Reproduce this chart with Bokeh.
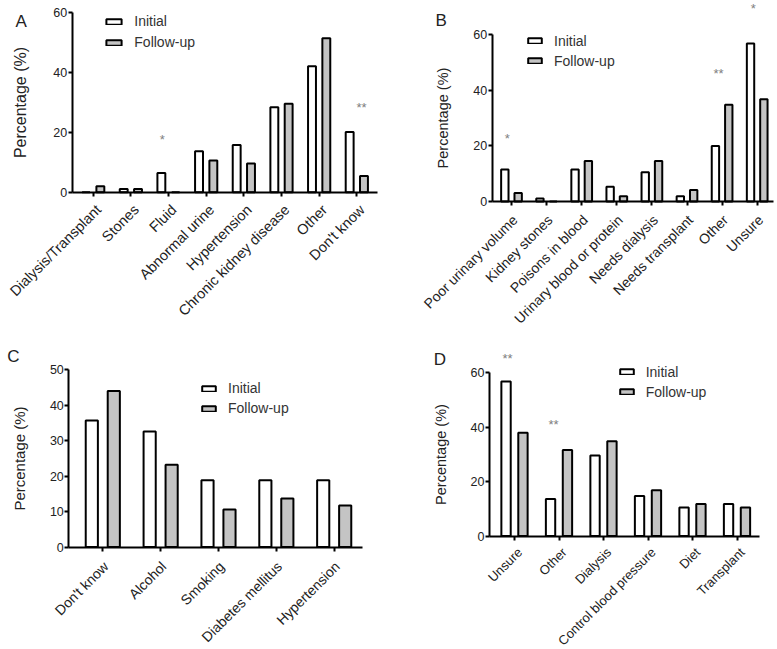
import numpy as np
from math import pi
from bokeh.plotting import figure
from bokeh.models import (ColumnDataSource, Range1d, FixedTicker, Label, Legend,
                          LegendItem, LinearAxis)
from bokeh.layouts import column, row
from bokeh.embed import file_html
from bokeh.resources import INLINE

FONT = "Liberation Sans"
series = ["Initial", "Follow-up"]

# ---------------- Panel A ----------------
a_categories = ["Dialysis/Transplant", "Stones", "Fluid", "Abnormal urine",
                "Hypertension", "Chronic kidney disease", "Other", "Don't know"]
a_initial = [0, 1.1, 6.4, 13.7, 15.8, 28.4, 42.1, 20.1]
a_followup = [2.0, 1.1, 0, 10.6, 9.6, 29.6, 51.5, 5.4]
a_star_cats = ["Fluid", "Don't know"]
a_star_text = ["*", "**"]
a_star_y = [18.6, 29.3]
a_yticks = [0, 20, 40, 60]

# ---------------- Panel B ----------------
b_categories = ["Poor urinary volume", "Kidney stones", "Poisons in blood",
                "Urinary blood or protein", "Needs dialysis", "Needs transplant",
                "Other", "Unsure"]
b_initial = [11.5, 1.1, 11.5, 5.3, 10.5, 1.9, 20.0, 56.9]
b_followup = [3.1, 0, 14.6, 1.9, 14.6, 4.1, 34.8, 36.8]
b_star_cats = ["Poor urinary volume", "Other", "Unsure"]
b_star_text = ["*", "**", "*"]
b_star_y = [23.8, 47.2, 70.5]
b_yticks = [0, 20, 40, 60]

# ---------------- Panel C ----------------
c_categories = ["Don't know", "Alcohol", "Smoking", "Diabetes mellitus", "Hypertension"]
c_initial = [35.7, 32.6, 18.8, 18.8, 18.8]
c_followup = [44.0, 23.2, 10.6, 13.7, 11.7]
c_star_cats = []
c_star_text = []
c_star_y = []
c_yticks = [0, 10, 20, 30, 40, 50]

# ---------------- Panel D ----------------
d_categories = ["Unsure", "Other", "Dialysis", "Control blood pressure", "Diet", "Transplant"]
d_initial = [56.7, 13.6, 29.5, 14.7, 10.5, 11.7]
d_followup = [37.9, 31.6, 34.8, 16.8, 11.7, 10.5]
d_star_cats = ["Unsure", "Other"]
d_star_text = ["**", "**"]
d_star_y = [66.2, 42.1]
d_yticks = [0, 20, 40, 60]


def panel(cats, init, foll, star_cats, star_text, star_y, yticks, letter, g):
    n = len(cats)
    idx = np.arange(n)
    off = 0.19
    bw = 0.21
    cl, ct, w, h = g["canvas"]

    def ux(px):
        return (px - g["x0px"]) / g["dx"]

    def uy(py):
        return (g["y0px"] - py) / g["ky"]

    xl, xr = ux(g["axl"]), ux(g["axr"])

    p = figure(width=w, height=h, output_backend="svg", toolbar_location=None,
               x_range=Range1d(ux(cl), ux(cl + w)),
               y_range=Range1d(uy(ct + h), uy(ct)))
    p.min_border = 0
    p.min_border_left = 0
    p.min_border_right = 0
    p.min_border_top = 0
    p.min_border_bottom = 0
    p.outline_line_color = None
    p.xgrid.grid_line_color = None
    p.ygrid.grid_line_color = None
    p.background_fill_color = "white"
    p.border_fill_color = "white"

    src = ColumnDataSource(dict(x0=idx - off, x1=idx + off, init=init, foll=foll))
    r1 = p.vbar(x="x0", top="init", bottom=0, width=bw, source=src,
                fill_color="white", line_color="black", line_width=2)
    r2 = p.vbar(x="x1", top="foll", bottom=0, width=bw, source=src,
                fill_color="#c4c4c4", line_color="black", line_width=2)

    for ax in (p.xaxis[0], p.yaxis[0]):
        ax.axis_line_width = 2
        ax.axis_line_color = "black"
        ax.major_tick_line_width = 2
        ax.major_tick_line_color = "black"
        ax.major_tick_in = 0
        ax.major_tick_out = 4
        ax.minor_tick_line_color = None
        ax.major_label_text_font = FONT
        ax.major_label_text_color = "#222222"

    # x axis: line and ticks at category centres
    xa = p.xaxis[0]
    xa.fixed_location = 0
    xa.bounds = (xl, xr)
    xa.ticker = FixedTicker(ticks=[int(i) for i in idx])
    xa.major_label_overrides = {int(i): "" for i in idx}

    # category labels (Prism-like placement, slightly right of each tick)
    shift = g["lshift"] / g["dx"]
    lab_ticks = [float(i) + shift for i in idx]
    la = LinearAxis(fixed_location=0,
                    ticker=FixedTicker(ticks=lab_ticks),
                    major_label_overrides={t: c for t, c in zip(lab_ticks, cats)},
                    major_label_orientation=pi / 4,
                    major_label_standoff=g["xstand"],
                    major_label_text_font=FONT,
                    major_label_text_font_size=g["xfs"],
                    major_label_text_color="#222222",
                    axis_line_color=None, major_tick_line_color=None,
                    minor_tick_line_color=None, major_tick_out=0, major_tick_in=0)
    p.add_layout(la, "below")

    ya = p.yaxis[0]
    ya.fixed_location = xl
    ya.bounds = (0, max(yticks))
    ya.ticker = FixedTicker(ticks=yticks)
    ya.major_label_text_font_size = g["yfs"]
    ya.major_label_standoff = 1
    ya.axis_label = "Percentage (%)"
    ya.axis_label_text_font = FONT
    ya.axis_label_text_font_style = "normal"
    ya.axis_label_text_font_size = g["lfs"]
    ya.axis_label_text_color = "#222222"
    ya.axis_label_standoff = g["ls"]

    lx, lc1 = g["leg"]
    legend_bottom = lc1 - 10 + 40 + g["lsp"]
    legend = Legend(items=[LegendItem(label=series[0], renderers=[r1]),
                           LegendItem(label=series[1], renderers=[r2])],
                    location=(lx - cl, ct + h - legend_bottom), orientation="vertical",
                    glyph_width=g["gw"], glyph_height=7, label_height=20,
                    spacing=g["lsp"], padding=0, margin=0, label_standoff=11,
                    label_text_font=FONT, label_text_font_size="14px",
                    label_text_color="#333333",
                    border_line_color=None, background_fill_alpha=0)
    p.add_layout(legend)

    for c, t, y in zip(star_cats, star_text, star_y):
        p.add_layout(Label(x=cats.index(c) + g["sdx"].get(c, 0), y=y, y_offset=-3, text=t,
                           text_align="center", text_baseline="middle",
                           text_font=FONT, text_font_size="13px", text_color="#808080"))

    p.add_layout(Label(x=ux(g["let"][0]), y=uy(g["let"][1]),
                       text=letter, text_font=FONT, text_font_size="17px",
                       text_color="#222222", text_baseline="middle", text_align="left"))
    return p


pA = panel(a_categories, a_initial, a_followup, a_star_cats, a_star_text, a_star_y, a_yticks, "A",
           dict(canvas=(0, 0, 390, 330), x0px=92.7, dx=37.66, y0px=191.7, ky=179.4 / 60,
                axl=71.6, axr=376.7, lshift=5.4, xstand=15,
                xfs="14.5px", yfs="12.5px", lfs="16px", ls=22,
                leg=(104.3, 21.3), gw=19, lsp=1,
                sdx={"Fluid": -0.168, "Don't know": 0.124},
                let=(15, 20.8)))
pB = panel(b_categories, b_initial, b_followup, b_star_cats, b_star_text, b_star_y, b_yticks, "B",
           dict(canvas=(390, 0, 386, 330), x0px=511.0, dx=35.1, y0px=201.0, ky=166.7 / 60,
                axl=491.7, axr=773.0, lshift=3.4, xstand=16,
                xfs="14px", yfs="12.5px", lfs="14.5px", ls=20,
                leg=(526.0, 40.8), gw=17, lsp=0,
                sdx={"Poor urinary volume": -0.12, "Other": -0.103, "Unsure": -0.114},
                let=(435, 19.7)))
pC = panel(c_categories, c_initial, c_followup, c_star_cats, c_star_text, c_star_y, c_yticks, "C",
           dict(canvas=(0, 330, 390, 318), x0px=102.3, dx=57.85, y0px=546.5, ky=177.2 / 50,
                axl=68.3, axr=361.7, lshift=3.1, xstand=17,
                xfs="14px", yfs="12.5px", lfs="15px", ls=19,
                leg=(200.0, 388.2), gw=17, lsp=0, sdx={},
                let=(6.7, 355.7)))
pD = panel(d_categories, d_initial, d_followup, d_star_cats, d_star_text, d_star_y, d_yticks, "D",
           dict(canvas=(390, 330, 386, 318), x0px=514.0, dx=44.5, y0px=535.5, ky=163.5 / 60,
                axl=489.0, axr=759.3, lshift=5.4, xstand=14,
                xfs="13px", yfs="12.5px", lfs="14.5px", ls=19,
                leg=(617.7, 371.5), gw=17, lsp=0,
                sdx={"Unsure": -0.157, "Other": -0.124},
                let=(433.3, 358.5)))

layout = column(row(pA, pB), row(pC, pD))
open("out.html", "w").write(file_html(layout, INLINE))
